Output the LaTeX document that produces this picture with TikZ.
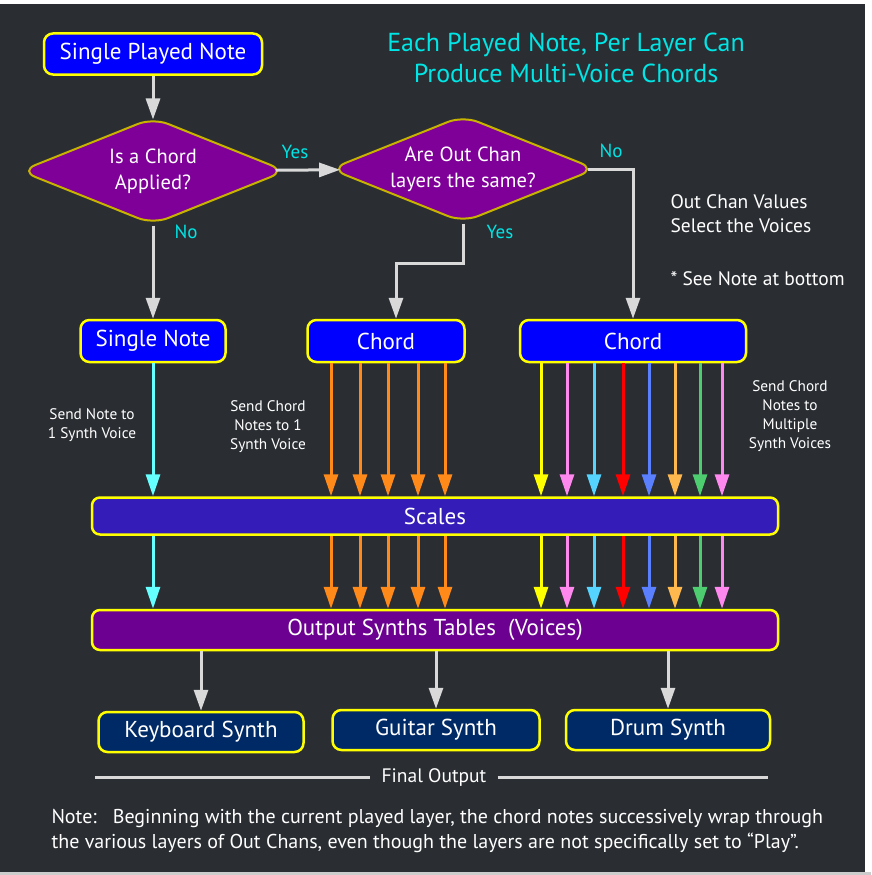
\documentclass[tikz,border=0pt]{standalone}
\usepackage{fontspec}
\setmainfont{PT Sans}
\usepackage{tikz}
\usetikzlibrary{arrows.meta, shapes.geometric, calc}
\definecolor{bgdark}{HTML}{2A2E33}
\definecolor{edgeyellow}{HTML}{FFFF00}
\definecolor{diaedge}{HTML}{C8B400}
\definecolor{playblue}{HTML}{0000FF}
\definecolor{diapurple}{HTML}{7F0099}
\definecolor{barpurple}{HTML}{6C0090}
\definecolor{scaleblue}{HTML}{331CB8}
\definecolor{synthnavy}{HTML}{002A66}
\definecolor{flowgray}{HTML}{D9D9D9}
\definecolor{answercyan}{HTML}{00E5E5}
\definecolor{vcyan}{HTML}{66FFFF}
\definecolor{vorange}{HTML}{FF8A1A}
\definecolor{vyellow}{HTML}{FFFF00}
\definecolor{vpink}{HTML}{FF88EE}
\definecolor{vsky}{HTML}{55D4FF}
\definecolor{vred}{HTML}{FF0000}
\definecolor{vblue}{HTML}{5A80FF}
\definecolor{vpeach}{HTML}{FFB84D}
\definecolor{vgreen}{HTML}{4DCC70}
\tikzset{
    box/.style={rectangle, rounded corners=9pt, draw=edgeyellow, line width=2.5pt, text=white, inner sep=0pt, font=\fontsize{23}{26}\selectfont},
    play/.style={box, fill=playblue},
    bar/.style={box, fill=scaleblue, rounded corners=8pt},
    synth/.style={box, fill=synthnavy},
    decision/.style={diamond, aspect=2.5, fill=diapurple, draw=diaedge, line width=2pt, rounded corners=16pt, minimum width=266pt, minimum height=107pt, inner sep=0pt, text=white, align=center, font=\fontsize{20.5}{26}\selectfont},
    flow/.style={draw=flowgray, line width=3pt, -{Triangle[length=21pt, width=14pt]}},
    voice/.style={draw=#1, line width=3pt, -{Triangle[length=22pt, width=14pt]}},
    answer/.style={text=answercyan, font=\fontsize{19}{20}\selectfont},
    remark/.style={text=white, align=center, font=\fontsize{15.3}{19}\selectfont}
}
\begin{document}
\begin{tikzpicture}[x=1pt, y=-1pt]
    % Fondo
    \useasboundingbox (0,0) rectangle (871,875);
    \fill[white] (0,0) rectangle (871,875);
    \fill[black!20] (0,872) rectangle (871,875);
    \fill[bgdark] (0,4) rectangle (865,872);

    % Decisiones
    \node[play, minimum width=218pt, minimum height=41pt] (played) at (153,54) {Single Played Note};
    \node[decision] (chordq) at (153,171) {Is a Chord\\Applied?};
    \node[decision] (sameq) at (463,169) {Are Out Chan\\layers the same?};

    % Salidas de las decisiones
    \node[play, minimum width=145pt, minimum height=42pt] (single) at (153,341) {Single Note};
    \node[play, minimum width=157pt, minimum height=42pt] (chorda) at (386,341) {Chord};
    \node[play, minimum width=226pt, minimum height=42pt] (chordb) at (633,341) {Chord};

    % Barras
    \node[bar, minimum width=686pt, minimum height=37pt] (scales) at (435,516) {Scales};
    \node[bar, fill=barpurple, minimum width=686pt, minimum height=40pt] (tables) at (435,630) {Output Synths Tables\ \ (Voices)\hspace{46pt}};

    % Sintetizadores
    \node[synth, minimum width=205pt, minimum height=40pt] (keys) at (201,732) {Keyboard Synth};
    \node[synth, minimum width=207pt, minimum height=40pt] (guitar) at (436,730) {Guitar Synth};
    \node[synth, minimum width=204pt, minimum height=40pt] (drum) at (668,730) {Drum Synth};

    % Textos
    \node[text=answercyan, align=center, font=\fontsize{26}{31}\selectfont] (title) at (566,58) {Each Played Note, Per Layer Can\\Produce Multi-Voice Chords};
    \node[text=white, align=left, anchor=north west, font=\fontsize{19.5}{24}\selectfont] (select) at (667,191) {Out Chan Values\\Select the Voices};
    \node[text=white, anchor=west, font=\fontsize{19.5}{24}\selectfont] (seenote) at (667,279) {* See Note at bottom};
    \node[remark] (sendone) at (92,425) {Send Note to\\1 Synth Voice};
    \node[remark] (sendchord) at (268,427) {Send Chord\\Notes to 1\\Synth Voice};
    \node[remark] (sendmulti) at (790,416) {Send Chord\\Notes to\\Multiple\\Synth Voices};
    \node[answer] (yes1) at (295,152) {Yes};
    \node[answer] (no1) at (186,232) {No};
    \node[answer] (no2) at (611,151) {No};
    \node[answer] (yes2) at (500,232) {Yes};

    % Transiciones
    \draw[flow, shorten >=-3pt] (played) -- (chordq);
    \draw[flow, shorten <=-9pt, shorten >=-9pt] (chordq) -- (sameq);
    \draw[flow] (chordq) -- (single);
    \draw[flow] (sameq.south) -- ++(0,40) -| ([xshift=10pt]chorda.north);
    \draw[flow] ([xshift=-9pt]sameq.east) -| (chordb.north);

    % Voces hacia Scales y hacia las tablas
    \draw[voice=vcyan] (single) -- (scales.north -| single.south);
    \draw[voice=vcyan] (scales.south -| single.south) -- (tables.north -| single.south);
    \foreach \x in {331,360,388,418,445} {
        \draw[voice=vorange] (chorda.south -| \x,0) -- (scales.north -| \x,0);
        \draw[voice=vorange] (scales.south -| \x,0) -- (tables.north -| \x,0);
    }
    \foreach \x/\c in {541/vyellow,567/vpink,594/vsky,623/vred,649/vblue,675/vpeach,700/vgreen,722/vpink} {
        \draw[voice=\c] (chordb.south -| \x,0) -- (scales.north -| \x,0);
        \draw[voice=\c] (scales.south -| \x,0) -- (tables.north -| \x,0);
    }

    % Tablas hacia sintetizadores
    \draw[flow] (tables.south -| keys.north) -- (keys.north);
    \draw[flow] (tables.south -| guitar.north) -- (guitar.north);
    \draw[flow] (tables.south -| drum.north) -- (drum.north);

    % Salida final y nota
    \node[text=white, inner xsep=11pt, font=\fontsize{19.5}{22}\selectfont] (final) at (434,777) {Final Output};
    \coordinate (ruleleft) at (95,777);
    \coordinate (ruleright) at (768,777);
    \draw[flowgray, line width=3pt] (ruleleft) -- (final.west);
    \draw[flowgray, line width=3pt] (final.east) -- (ruleright);
    \node[text=white, align=left, anchor=north west, font=\fontsize{20}{25}\selectfont] (note) at (48,806) {Note:\ \ \ Beginning with the current played layer, the chord notes successively wrap through\\the various layers of Out Chans, even though the layers are not specifically set to “Play”.};
\end{tikzpicture}
\end{document}
